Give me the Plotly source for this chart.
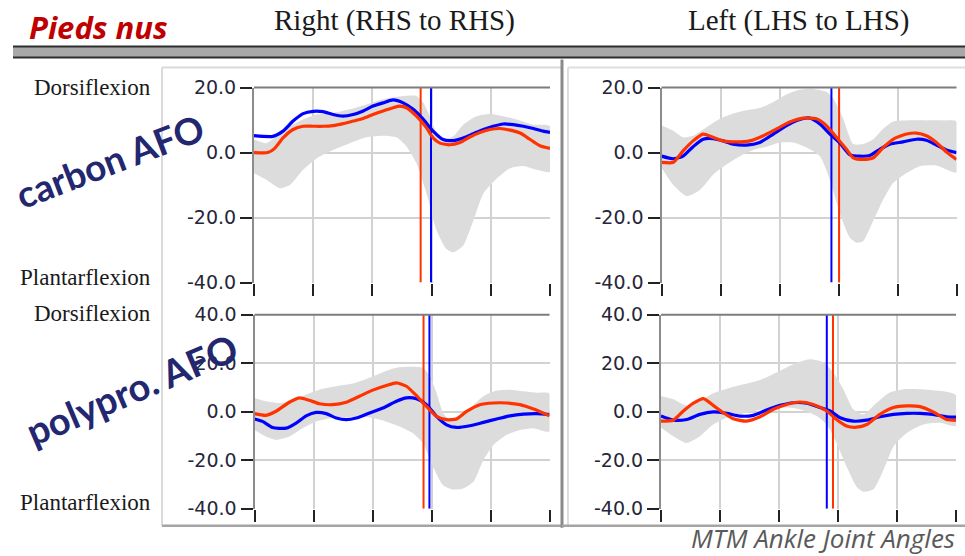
import plotly.graph_objects as go

W, H = 965, 576   # figure size in page pixels

# ---------------- data (gait cycle %, ankle angle in degrees) ----------------
# Top-left: carbon AFO, Right
TL_BLUE_X = [0, 6.4, 9.8, 13.2, 16.6, 20.0, 23.3, 26.7, 30.1, 33.5, 36.9, 40.2, 43.6, 47.0, 50.4,
             53.8, 57.2, 60.5, 63.9, 67.3, 70.7, 74.1, 77.5, 80.8, 84.2, 87.6, 91.0, 94.4, 97.7, 100]
TL_BLUE_Y = [5.2, 5.0, 6.6, 9.7, 12.0, 12.7, 12.6, 11.7, 11.2, 11.7, 12.8, 14.3, 15.3, 16.2, 15.3,
             13.3, 10.2, 6.6, 4.0, 3.7, 4.5, 5.8, 7.1, 8.1, 8.8, 8.6, 8.1, 7.4, 6.6, 6.2]
TL_RED_X = [0, 4.7, 7.0, 9.8, 13.2, 16.6, 20.0, 23.3, 26.7, 30.1, 33.5, 36.9, 40.2, 43.6, 47.0, 49.3,
            51.5, 54.9, 58.3, 60.5, 62.8, 66.2, 69.6, 72.9, 76.3, 79.7, 83.1, 86.5, 89.9, 93.2, 96.6, 100]
TL_RED_Y = [0, 0, 1.3, 4.5, 7.1, 8.1, 8.1, 8.1, 8.3, 8.9, 9.7, 10.5, 11.7, 12.8, 13.8, 14.3,
            13.8, 11.2, 7.6, 4.5, 2.9, 2.4, 3.1, 4.8, 6.2, 7.1, 7.4, 6.9, 6.0, 4.1, 2.1, 1.3]
TL_BAND_UP_X = [0, 4.2, 7.6, 12.1, 16.6, 21.1, 26.7, 32.4, 38.0, 43.6, 50.4, 54.9, 57.2, 59.4, 61.7,
                63.9, 67.3, 70.7, 75.2, 79.7, 84.2, 88.7, 94.4, 100]
TL_BAND_UP_Y = [4.0, 2.9, 5.0, 8.1, 10.2, 11.7, 12.2, 13.3, 14.8, 16.4, 17.4, 17.4, 15.3, 11.2, 6.0,
                3.5, 5.0, 8.6, 11.2, 11.9, 11.2, 10.2, 8.6, 8.1]
TL_BAND_LO_X = [0, 4.2, 8.7, 12.1, 16.6, 21.1, 26.7, 32.4, 38.0, 43.6, 48.1, 51.5, 54.9, 58.3, 61.7,
                65.0, 67.3, 70.7, 74.1, 77.5, 82.0, 86.5, 91.0, 95.5, 100]
TL_BAND_LO_Y = [-6.4, -8.4, -11.0, -10.0, -5.3, -1.8, 0.8, 2.9, 4.7, 5.2, 4.7, 1.9, -3.3, -12.6, -24.0,
                -29.7, -30.7, -28.6, -20.9, -12.6, -8.0, -4.8, -4.1, -5.3, -5.9]

# Top-right: carbon AFO, Left
TR_BLUE_X = [0, 4.0, 7.3, 10.7, 14.1, 17.5, 20.9, 24.3, 28.8, 33.3, 37.9, 42.4, 46.9, 50.3, 53.7, 57.1,
             60.5, 63.8, 67.2, 70.6, 74.0, 77.4, 81.9, 86.4, 89.8, 93.2, 96.6, 100]
TR_BLUE_Y = [-1.1, -1.9, -1.1, 1.8, 4.1, 4.3, 3.6, 2.6, 2.3, 3.1, 5.7, 8.3, 10.2, 10.6, 8.8, 5.7,
             2.9, -0.6, -1.1, -0.9, 1.0, 2.6, 3.3, 4.1, 3.8, 2.3, 0.8, 0.0]
TR_RED_X = [0, 4.0, 7.3, 10.7, 14.1, 17.5, 20.9, 25.4, 29.9, 34.5, 39.0, 43.5, 48.0, 52.5, 55.9, 59.3,
            62.7, 65.0, 68.4, 71.8, 75.1, 78.5, 83.1, 86.4, 89.8, 93.2, 96.6, 100]
TR_RED_Y = [-3.0, -3.0, 0.5, 3.6, 5.7, 4.7, 3.6, 3.3, 3.6, 5.2, 7.3, 9.4, 10.6, 10.4, 8.3, 4.7,
            1.0, -1.6, -2.1, -1.6, 1.5, 4.1, 5.7, 6.0, 5.2, 3.1, 0.2, -2.1]
TR_BAND_UP_X = [0, 4.0, 7.3, 10.7, 15.3, 19.8, 24.3, 28.8, 33.3, 37.9, 42.4, 46.9, 51.4, 55.9, 58.2,
                61.6, 65.0, 68.4, 71.8, 75.1, 78.5, 83.1, 89.8, 95.5, 100]
TR_BAND_UP_Y = [8.3, 6.7, 4.7, 5.2, 7.8, 10.4, 12.0, 13.0, 13.7, 15.6, 17.9, 19.3, 19.6, 18.7, 16.7,
                10.4, 2.6, 2.6, 4.1, 7.3, 9.6, 9.9, 9.9, 9.9, 9.6]
TR_BAND_LO_X = [0, 4.0, 8.5, 13.0, 17.5, 22.0, 26.6, 31.1, 35.6, 40.1, 44.6, 49.3, 53.7, 57.1, 60.5,
                63.8, 66.1, 68.4, 71.8, 75.1, 78.5, 83.1, 87.6, 93.2, 100]
TR_BAND_LO_Y = [-4.7, -10.0, -13.4, -11.5, -6.8, -3.7, -1.1, 0.8, 1.8, 3.1, 3.1, 1.5, -1.1, -8.4, -18.8,
                -26.1, -27.7, -27.2, -20.9, -14.6, -9.4, -6.3, -4.2, -4.0, -6.1]

# Bottom-left: polypro. AFO, Right
BL_BLUE_X = [0, 2.7, 6.1, 10.7, 14.1, 17.5, 20.9, 24.3, 27.7, 31.1, 34.5, 39.0, 43.5, 48.1, 51.5, 54.9,
             58.3, 61.7, 65.1, 68.5, 73.0, 77.6, 82.1, 86.6, 91.2, 95.7, 100]
BL_BLUE_Y = [-3.0, -4.0, -6.5, -6.8, -4.7, -1.7, -0.3, -0.8, -2.6, -3.3, -2.6, -0.5, 1.5, 4.3, 5.7, 5.3,
             2.9, -1.9, -5.4, -6.5, -5.8, -4.4, -3.0, -1.7, -1.0, -0.8, -1.2]
BL_RED_X = [0, 3.9, 7.3, 11.8, 15.2, 18.6, 22.0, 26.5, 31.1, 35.6, 40.1, 44.7, 48.1, 51.5, 54.9, 58.3,
            61.7, 65.1, 68.5, 71.9, 76.4, 81.0, 85.5, 90.0, 94.6, 100]
BL_RED_Y = [-0.8, -1.5, 0.2, 3.9, 5.7, 4.7, 3.3, 2.9, 3.9, 6.4, 8.9, 10.8, 11.9, 10.5, 6.6, 2.2,
            -1.9, -3.3, -3.0, 0.1, 2.9, 3.6, 3.6, 2.9, 1.1, -1.7]
BL_BAND_UP_X = [0, 3.9, 8.4, 12.9, 17.5, 22.0, 27.7, 33.3, 39.0, 43.5, 48.1, 52.6, 57.1, 59.4, 61.7,
                63.9, 66.2, 69.6, 73.0, 77.6, 82.1, 86.6, 91.2, 95.7, 100]
BL_BAND_UP_Y = [5.7, 4.3, 3.6, 4.3, 7.1, 9.1, 10.5, 11.6, 14.0, 16.3, 18.1, 18.5, 18.1, 14.7, 7.8,
                -0.4, -3.3, -1.2, 1.5, 6.4, 8.7, 9.1, 8.4, 7.8, 7.5]
BL_BAND_LO_X = [0, 3.9, 7.3, 11.8, 16.3, 20.9, 26.5, 32.2, 37.9, 43.5, 49.2, 53.7, 57.1, 60.5, 63.9,
                67.3, 70.7, 74.2, 77.6, 81.0, 85.5, 90.0, 94.6, 100]
BL_BAND_LO_Y = [-7.5, -10.2, -11.6, -10.2, -6.8, -4.0, -2.6, -2.2, -2.2, -3.6, -6.1, -8.9, -13.0, -22.7,
                -30.3, -32.1, -31.7, -28.9, -19.9, -13.7, -9.5, -7.5, -6.8, -8.2]

# Bottom-right: polypro. AFO, Left
BR_BLUE_X = [0, 4.2, 8.7, 13.2, 17.7, 22.3, 26.8, 31.3, 35.8, 40.3, 44.9, 49.4, 53.9, 57.3, 60.7, 65.2,
             69.7, 74.2, 78.8, 83.3, 87.8, 92.3, 96.8, 100]
BR_BLUE_Y = [-1.8, -3.5, -3.2, -1.1, -0.1, -0.7, -1.8, -1.5, 0.7, 2.6, 3.7, 3.5, 1.7, 0.3, -2.5, -3.9,
             -3.5, -2.1, -1.1, -0.7, -0.7, -1.1, -2.1, -2.2]
BR_RED_X = [0, 4.2, 7.6, 11.0, 14.4, 17.7, 21.1, 24.5, 29.0, 33.6, 38.1, 42.6, 47.1, 51.6, 56.2, 59.5,
            62.9, 66.3, 69.7, 74.2, 78.8, 83.3, 87.8, 92.3, 96.8, 100]
BR_RED_Y = [-3.9, -3.5, 0.3, 3.5, 5.4, 2.6, -0.4, -2.9, -3.9, -2.1, 1.0, 3.0, 4.0, 3.0, 0.3, -3.2,
            -5.9, -6.4, -5.3, -1.1, 1.7, 2.4, 2.1, -0.1, -3.2, -3.6]
BR_BAND_UP_X = [0, 4.2, 8.7, 13.2, 17.7, 22.3, 27.9, 33.6, 39.2, 44.9, 50.5, 55.0, 58.4, 61.8, 65.2,
                68.6, 73.1, 77.5, 82.3, 87.8, 94.6, 100]
BR_BAND_UP_Y = [6.5, 5.1, 2.4, 4.4, 7.6, 9.5, 11.3, 13.1, 16.2, 19.6, 21.6, 20.3, 16.2, 9.3, 1.0,
                -1.1, 3.7, 7.9, 9.3, 9.3, 8.6, 6.8]
BR_BAND_LO_X = [0, 4.2, 8.7, 13.2, 17.7, 22.3, 29.0, 35.8, 42.6, 47.1, 52.8, 56.2, 59.5, 62.9, 66.3,
                68.6, 72.0, 75.4, 78.8, 83.3, 88.9, 94.6, 100]
BR_BAND_LO_Y = [-6.6, -10.1, -12.9, -10.1, -5.3, -2.5, -0.4, 1.2, 1.7, 1.0, -1.8, -5.3, -12.9, -22.6,
                -30.9, -33.0, -32.0, -24.0, -14.3, -8.8, -5.3, -4.6, -5.9]

# Foot-off events (% of gait cycle): [blue, red]
TL_EVENTS = [59.8, 56.3]
TR_EVENTS = [57.6, 60.2]
BL_EVENTS = [59.3, 57.3]
BR_EVENTS = [56.2, 58.3]

X_TICKS = [0, 20, 40, 60, 80, 100]
X_GRID = [20, 40, 60, 80]
TOP_TICKS = [20, 0, -20, -40]
TOP_TICK_LABELS = ["20.0", "0.0", "-20.0", "-40.0"]
TOP_GRID = [0, -20]
BOT_TICKS = [40, 20, 0, -20, -40]
BOT_TICK_LABELS = ["40.0", "20.0", "0.0", "-20.0", "-40.0"]
BOT_GRID = [20, 0, -20]
TOP_RANGE = [-40, 20]
BOT_RANGE = [-40, 40]

COL_TITLES = ["Right (RHS to RHS)", "Left (LHS to LHS)"]
ROW_TITLES = ["carbon AFO", "polypro. AFO"]
UP_LABEL, DOWN_LABEL = "Dorsiflexion", "Plantarflexion"

# ---------------- styling / layout helpers ----------------
BLUE = "#0000ff"
RED = "#ff3300"
BAND = "#dcdcdc"
GRID = "#d2d2d2"

# observed vertical mapping of the capture: shown_y = Y_OFF + Y_SCALE * page_y
Y_OFF, Y_SCALE = 11.8, 0.957


def px(x):
    return x / W


def py(y):
    """target picture row -> paper fraction"""
    return 1 - ((y - Y_OFF) / Y_SCALE) / H


panels = [
    dict(ax="", xd=[254, 550], yd=[88, 282],
         bx=TL_BLUE_X, by=TL_BLUE_Y, rx=TL_RED_X, ry=TL_RED_Y,
         ux=TL_BAND_UP_X, uy=TL_BAND_UP_Y, lx=TL_BAND_LO_X, ly=TL_BAND_LO_Y,
         ev=TL_EVENTS, rng=TOP_RANGE, tv=TOP_TICKS, tt=TOP_TICK_LABELS, grid=TOP_GRID),
    dict(ax="2", xd=[661.5, 956.5], yd=[88, 282],
         bx=TR_BLUE_X, by=TR_BLUE_Y, rx=TR_RED_X, ry=TR_RED_Y,
         ux=TR_BAND_UP_X, uy=TR_BAND_UP_Y, lx=TR_BAND_LO_X, ly=TR_BAND_LO_Y,
         ev=TR_EVENTS, rng=TOP_RANGE, tv=TOP_TICKS, tt=TOP_TICK_LABELS, grid=TOP_GRID),
    dict(ax="3", xd=[254.5, 549.5], yd=[314, 507],
         bx=BL_BLUE_X, by=BL_BLUE_Y, rx=BL_RED_X, ry=BL_RED_Y,
         ux=BL_BAND_UP_X, uy=BL_BAND_UP_Y, lx=BL_BAND_LO_X, ly=BL_BAND_LO_Y,
         ev=BL_EVENTS, rng=BOT_RANGE, tv=BOT_TICKS, tt=BOT_TICK_LABELS, grid=BOT_GRID),
    dict(ax="4", xd=[661, 956], yd=[314, 507],
         bx=BR_BLUE_X, by=BR_BLUE_Y, rx=BR_RED_X, ry=BR_RED_Y,
         ux=BR_BAND_UP_X, uy=BR_BAND_UP_Y, lx=BR_BAND_LO_X, ly=BR_BAND_LO_Y,
         ev=BR_EVENTS, rng=BOT_RANGE, tv=BOT_TICKS, tt=BOT_TICK_LABELS, grid=BOT_GRID),
]

fig = go.Figure()
layout = {}
shapes = []

for p in panels:
    xa, ya = "x" + p["ax"], "y" + p["ax"]
    # SD band
    fig.add_trace(go.Scatter(
        x=p["ux"] + p["lx"][::-1], y=p["uy"] + p["ly"][::-1],
        fill="toself", fillcolor=BAND, line=dict(width=0, shape="spline", smoothing=0.6),
        mode="lines", hoverinfo="skip", showlegend=False, xaxis=xa, yaxis=ya))
    # event lines
    for ev, col in zip(p["ev"], [BLUE, RED]):
        fig.add_trace(go.Scatter(
            x=[ev, ev], y=p["rng"], mode="lines", line=dict(color=col, width=2),
            showlegend=False, hoverinfo="skip", xaxis=xa, yaxis=ya))
    # curves
    fig.add_trace(go.Scatter(x=p["bx"], y=p["by"], mode="lines",
                             line=dict(color=BLUE, width=3.2, shape="spline", smoothing=0.6),
                             showlegend=False, xaxis=xa, yaxis=ya))
    fig.add_trace(go.Scatter(x=p["rx"], y=p["ry"], mode="lines",
                             line=dict(color=RED, width=3.2, shape="spline", smoothing=0.6),
                             showlegend=False, xaxis=xa, yaxis=ya))

    layout["xaxis" + p["ax"]] = dict(
        domain=[px(p["xd"][0]), px(p["xd"][1])], anchor=ya, range=[0, 100],
        tickmode="array", tickvals=X_TICKS, ticktext=[""] * len(X_TICKS),
        ticks="outside", ticklen=12, tickwidth=2, tickcolor="#222222",
        showgrid=False, zeroline=False, showline=False, fixedrange=True,
        minor=dict(tickmode="array", tickvals=X_GRID, showgrid=True,
                   gridcolor=GRID, gridwidth=1.5, ticks=""))
    layout["yaxis" + p["ax"]] = dict(
        domain=[py(p["yd"][1]), py(p["yd"][0])], anchor=xa, range=p["rng"],
        tickmode="array", tickvals=p["tv"], ticktext=p["tt"],
        ticks="outside", ticklen=12, tickwidth=2, tickcolor="#222222",
        tickfont=dict(family="DejaVu Sans", size=19, color="#26263a"),
        showgrid=False, zeroline=False, showline=True, linecolor="#8c8c8c", linewidth=2,
        fixedrange=True,
        minor=dict(tickmode="array", tickvals=p["grid"], showgrid=True,
                   gridcolor=GRID, gridwidth=1.5, ticks=""))
    # top frame line of plot area
    shapes.append(dict(type="line", xref=xa + " domain", yref=ya + " domain",
                       x0=0, x1=1, y0=1, y1=1, line=dict(color="#7d7d7d", width=2)))


# panel frames (paper coordinates)
def seg(x0, y0, x1, y1, color, width):
    shapes.append(dict(type="line", xref="paper", yref="paper",
                       x0=px(x0), y0=py(y0), x1=px(x1), y1=py(y1),
                       line=dict(color=color, width=width)))


seg(162, 68, 562, 68, "#dadada", 2)
seg(162, 68, 162, 524, "#dadada", 2)
seg(162, 524, 562, 524, "#a4a4a4", 2.5)
seg(562, 60, 562, 526, "#8a8a8a", 3)
seg(568, 68, 965, 68, "#dedede", 2)
seg(568, 68, 568, 524, "#dedede", 2)
seg(562, 524, 965, 524, "#a4a4a4", 2.5)

# header separator bar
shapes.append(dict(type="rect", xref="paper", yref="paper",
                   x0=px(13), x1=px(965), y0=py(58), y1=py(47),
                   fillcolor="#a8a8a8", line=dict(width=0)))
seg(13, 47, 965, 47, "#2e2e2e", 2)
seg(13, 58, 965, 58, "#2e2e2e", 2)

ann = []


def text(x, y, s, size, family, color, xanchor="center", yanchor="middle", angle=0):
    ann.append(dict(x=px(x), y=py(y), xref="paper", yref="paper", text=s, showarrow=False,
                    xanchor=xanchor, yanchor=yanchor, textangle=angle,
                    font=dict(size=size, family=family, color=color)))


text(98, 28, "<b><i>Pieds nus</i></b>", 31, "Open Sans", "#c00000")
text(394, 21, COL_TITLES[0], 29, "Liberation Serif", "#1a1a1a")
text(799, 21, COL_TITLES[1], 29, "Liberation Serif", "#1a1a1a")
text(153, 88, UP_LABEL, 23, "Liberation Serif", "#1a1a1a", xanchor="right")
text(153, 277, DOWN_LABEL, 23, "Liberation Serif", "#1a1a1a", xanchor="right")
text(153, 313, UP_LABEL, 23, "Liberation Serif", "#1a1a1a", xanchor="right")
text(153, 501, DOWN_LABEL, 23, "Liberation Serif", "#1a1a1a", xanchor="right")
text(110, 161, "<b>" + ROW_TITLES[0] + "</b>", 37, "Lato", "#222770", angle=-21)
text(131, 388, "<b>" + ROW_TITLES[1] + "</b>", 38, "Lato", "#222770", angle=-23)
text(957, 536, "<i>MTM Ankle Joint Angles</i>", 26, "Open Sans", "#5a5a5a", xanchor="right")

fig.update_layout(
    width=W, height=H, margin=dict(l=0, r=0, t=0, b=0),
    paper_bgcolor="white", plot_bgcolor="white",
    showlegend=False, shapes=shapes, annotations=ann, **layout)

fig.write_html(
    "out.html",
    config={"displayModeBar": False, "responsive": False},
    post_script=("var gd=document.getElementById('{plot_id}');"
                 "gd.style.position='fixed';gd.style.top='0px';gd.style.left='0px';"
                 "document.body.style.margin='0';"
                 "document.documentElement.style.overflow='hidden';"))
